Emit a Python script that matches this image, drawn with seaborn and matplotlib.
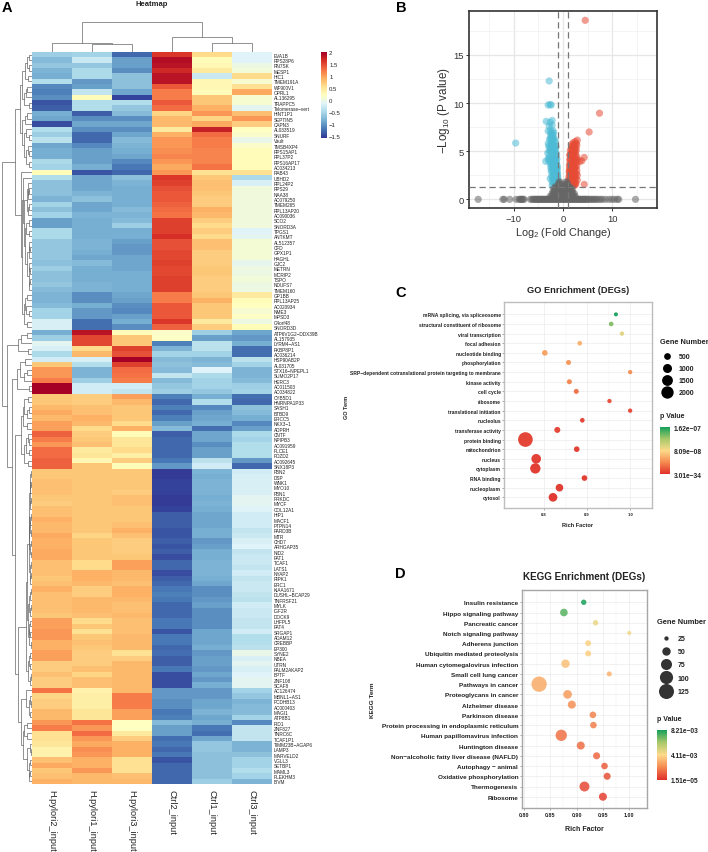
import numpy as np
import pandas as pd
import matplotlib
matplotlib.use("Agg")
import matplotlib.pyplot as plt
from matplotlib.colors import LinearSegmentedColormap, Normalize
from matplotlib.lines import Line2D
from matplotlib.cm import ScalarMappable
import seaborn as sns

sns.set_style("white")
plt.rcParams['font.family'] = ['Liberation Sans', 'DejaVu Sans']
plt.rcParams['mathtext.default'] = 'regular'

W, H = 708, 853

# heatmap data
genes = ["EVA1B","RPS28P6","RN7SK","MESP1","HIC1","TMEM191A","WF900V1","OPRL1","AL136295","TRAPPC5","Telomerase−vert",
"HINT1P1","SEPTIN5","CAPN3","AL033519","SNURF","Vault","TMSB4XP4","RPS15AP1","RPL37P2","RPS16AP17","AC034213",
"RAB43","UBHD2","RPL24P2","RPS29","NAA38","AC079250","TMEM265","RPL13AP20","AC090036",
"SCO2","SNORD3A","TPGS1","ANTKMT","AL512357","CFD","GPX1P1","HAGHL","GJC2","METRN","MCRIP2","TSPO","NDUFS7","TMEM160",
"GP1BB","RPL13AP25","AC020934","NME3","MPSD3","C4orf48","SNORD3D",
"ATP6V1G2−DDX39B","AL157935","LYRM4−AS1","FKBP8P1","AC036214","HSP90AB2P","AL031705","STX16−NPEPL1","SUMO2P17","HERC3","AC011503","AC034822",
"CYB5D1","HNRNPA1P33","SASH1","BTBD9","ERCC5","NKX3−1","ADPRH","CNTF","NPIPB3","AC091959","PLCE1","PDZD2","AC092645","SNX18P3",
"FBN2","DSP","WNK1","MYO10","FBN1","PRKDC","MYCF","COL12A1",
"HIP1","MACF1","PTPN14","PARD3B","MTR","CHD7","ARHGAP35","NID2","FAT1",
"TCAF1","LATS1","NYAP2","RIPK1","ERC1","KIAA1671","DUSHL−BCAP29","TNFRSF21","MYLK","IGF2R","DOCK9",
"LHFPL5","FAT4","SRGAP1","ADAM12","CREBBP","EP300",
"SYNE2","NBEA","UTRN","PALM2AKAP2","BPTF","ZNF108","SCAF8",
"AC126474","MBNL1−AS1","PCDHB13","AC000403","MAGI1","ATP8B1",
"PID1","ZNF827","TNRC6C","TCAF1P1","TIMM23B−AGAP6","LAMP3","MARVELD2","VGLL3","SETBP1","MAML3","PLEKHM3","BIVM"]

samples = ["H.pylori2_input","H.pylori1_input","H.pylori3_input","Ctrl2_input","Ctrl1_input","Ctrl3_input"]

h2 = [-0.6,-0.75,-0.65,-0.8,-0.85,-0.45,-1.1,-1.15,-1.05,-1.4,-1.35,
-0.85,-0.9,-1.45,-0.45,-0.6,-0.4,-0.9,-0.85,-0.85,-0.5,-0.55,
0.25,-0.45,-0.7,-0.7,-0.7,-0.8,-0.55,-0.7,-0.55,
-0.95,-0.95,-0.5,-0.5,-0.65,-0.65,-0.65,-0.65,-0.7,-0.6,-0.7,-0.7,-0.65,-0.75,
-0.8,-0.8,-0.75,-0.55,-0.55,-0.2,-0.2,
-0.85,-0.6,-0.1,-0.2,-0.5,-0.25,0.75,1.05,1.05,1.2,2.05,2.05,
0.75,0.75,0.85,0.95,0.85,1.0,1.0,1.35,1.2,1.05,1.3,1.3,1.35,1.35,
.75,.75,.8,.8,.8,.75,.7,.8,
.8,.9,.85,.85,.95,.9,.9,.95,.95,
.8,.8,.8,.75,.8,.9,.8,.8,.8,.8,.75,
1.0,1.0,1.05,1.05,.9,.9,
1.0,1.0,.7,.7,.8,.7,.7,
1.25,.65,.7,.7,.85,.85,
1.05,1.2,.55,.55,.5,.35,.35,.8,.95,.75,.8,.9]

h1 = [-0.55,-0.3,-0.65,-0.5,-0.5,-1.0,-0.95,-0.35,0.25,-0.45,-0.45,
-1.35,-1.05,-0.9,-1.05,-1.3,-1.3,-1.1,-0.95,-0.95,-0.95,-0.85,
-1.4,-0.9,-0.9,-0.9,-0.8,-0.7,-0.9,-0.9,-0.8,
-0.85,-0.85,-0.85,-0.85,-0.8,-0.8,-0.85,-0.9,-0.75,-0.85,-0.85,-0.85,-0.8,-0.8,
-1.05,-1.05,-0.85,-1.0,-1.0,-1.25,-1.25,
1.85,1.5,1.5,0.6,0.85,-0.2,-0.45,-0.8,-0.8,-0.6,-0.25,-0.25,
0.7,0.7,0.8,0.8,0.9,0.85,0.6,0.7,0.75,0.8,0.45,0.5,0.3,0.75,
.75,.75,.75,.75,.75,.75,.75,.75,
.75,.75,.75,.75,.65,.75,.75,.75,.75,
.6,.6,.9,.9,.85,.7,.7,.85,.85,.85,.8,
.6,.75,.55,.75,.8,.75,
.7,.7,.7,.8,.65,.8,.8,
.35,.4,.4,.4,.5,.5,
1.25,1.05,1.3,1.05,.95,1.1,1.05,.9,.9,1.05,.85,.85]

h3 = [-1.3,-0.95,-0.95,-1.05,-0.7,-0.7,-0.7,-0.9,-1.5,-0.45,-0.65,
-0.75,-1.05,-0.9,-1.05,-0.9,-0.75,-0.8,-0.85,-0.9,-1.1,-1.2,
-1.3,-0.7,-0.8,-0.85,-0.85,-0.85,-0.85,-0.75,-0.8,
-0.75,-0.6,-0.85,-0.85,-0.95,-1.0,-1.0,-0.9,-0.9,-0.9,-0.85,-0.85,-0.85,-0.85,
-0.9,-0.95,-1.05,-1.1,-0.95,-0.85,-1.05,
0.25,0.75,0.75,1.55,1.45,2.0,1.55,1.3,1.25,1.2,-0.25,-0.35,
1.0,0.85,0.75,0.75,0.75,0.6,0.9,0.25,0.5,0.5,0.6,0.4,0.7,0.25,
.75,.75,.75,.75,.7,.8,.8,.75,
.75,.75,.8,.9,.8,.7,.7,.7,.75,
1.0,1.0,.85,.85,.8,.9,.9,.85,.8,.8,.85,
.8,.8,.8,.85,.85,.85,
.55,.7,.85,.85,.85,.85,.85,
.85,1.2,1.2,1.2,1.0,1.0,
.2,.2,.45,.7,.9,.9,.9,.55,.55,.55,.8,.85]

c2 = [1.6,1.9,1.85,1.7,1.85,1.85,1.4,1.2,1.2,1.4,1.3,
.65,.85,.85,.45,.9,1.05,1.05,1.1,1.15,1.05,.95,
1.05,1.6,1.55,1.45,1.4,1.4,1.35,1.3,1.25,
1.55,1.55,1.55,1.65,1.45,1.45,1.5,1.5,1.55,1.5,1.5,1.55,1.55,1.55,
1.2,1.2,1.4,1.4,1.4,1.6,1.35,
.15,.18,-1.15,-.8,-.55,-.75,-.7,-.75,-.35,-.75,-.65,-.6,
-1.15,-1.3,-1.15,-1.3,-1.15,-.95,-.75,-1.35,-1.3,-1.3,-1.3,-1.3,-1.2,-1.0,
-1.55,-1.55,-1.5,-1.5,-1.5,-1.55,-1.55,-1.5,
-1.35,-1.35,-1.35,-1.4,-1.4,-1.35,-1.4,-1.35,-1.45,
-1.3,-1.3,-1.45,-1.35,-1.3,-1.2,-1.15,-1.2,-1.3,-1.3,-1.3,
-1.2,-1.2,-1.4,-1.2,-1.2,-1.3,
-1.25,-1.35,-1.35,-1.2,-1.45,-1.45,-1.45,
-1.0,-1.0,-1.05,-1.05,-1.2,-1.15,
-.75,-.95,-.95,-1.25,-1.2,-1.3,-1.2,-1.4,-1.3,-1.3,-1.3,-1.3]

c1 = [.6,.25,.3,.45,-.3,.3,.3,.25,.75,.75,.9,
1.05,.65,.95,1.75,1.3,1.2,1.2,1.15,1.15,1.15,1.25,
.55,.75,.8,.8,.75,.7,.7,.9,.85,
.7,.6,.7,.6,.8,.8,.7,.7,.7,.75,.75,.7,.7,.7,
.75,.9,.75,.75,.75,.45,.7,
-.6,-.95,-.4,-.4,-.55,-.8,-.75,-.15,-.5,-.55,-.55,-.65,
-.85,-.45,-1.1,-.95,-.9,-.85,-1.25,-.9,-.9,-1.05,-.95,-.95,-.4,-.25,
-.8,-.85,-.8,-.8,-.8,-.85,-.8,-.85,
-.9,-.9,-.9,-.85,-.85,-1.0,-.95,-.85,-.85,
-.8,-.8,-.8,-.85,-.9,-1.05,-1.05,-1.0,-.95,-1.05,-1.05,
-1.05,-1.05,-.9,-.9,-.9,-.85,
-1.0,-.95,-.95,-1.0,-.9,-1.0,-.85,
-1.0,-1.0,-.9,-.9,-.8,-.9,
-.85,-1.2,-1.25,-.9,-.65,-.65,-.7,-.7,-.7,-.7,-.7,-.6]

c3 = [-.15,-.15,0,.05,.6,.1,.55,.95,.1,.1,-.1,
.8,1.05,.7,.2,.15,-.05,.15,.25,.25,.25,.25,
.55,-.5,-.2,.03,.03,.03,.03,.03,.03,
.03,.03,-.15,-.1,.08,.08,.08,.08,-.08,0,0,.05,0,0,
.45,.25,.22,.1,.18,0,.25,
-.9,-1.0,-.85,-1.25,-1.25,-.4,-.55,-.8,-.8,-.75,-.6,-.55,
-1.25,-1.3,-.7,-.75,-.85,-1.1,-.95,-.5,-.55,-.45,-.45,-.45,-1.0,-1.3,
-.25,-.2,-.2,-.2,-.2,-.1,-.1,-.15,
-.25,-.25,-.25,-.35,-.3,-.2,-.15,-.35,-.3,
-.3,-.35,-.25,-.35,-.3,-.3,-.35,-.4,-.25,-.3,-.3,
-.35,-.35,-.25,-.45,-.45,-.4,
-.05,-.2,-.1,-.2,-.15,-.1,-.1,
-.55,-.65,-.8,-.75,-.75,-.55,
-1.1,-.35,-.35,-.35,-.8,-.8,-.7,-.55,-.55,-.45,-.55,-.8]

# merge height between neighbouring leaves
col_merge = [9.5, 8, 30.5, 15.5, 9.5]
row_merge = [3,5,3,7,4,10,5,6,8,3,12,
5,7,10,6,3,8,4,3,6,3,17,
11,9,4,3,4,5,3,4,8,3,6,3,7,3,2.5,3.5,5,3,2.5,3.5,2.5,3,10,5,7,6,3,8,5,30,
5,11,14,4,24.7,
7,12,5,8,15,3.5,20,
4,8,3,5,9,5,11,4,3,6,3,8,4.5,17,
1.5,2,1.2,1.8,2.5,1.2,2,3,1.3,1.8,2.3,1.5,2.8,1.2,2,1.4,3.2,1.2,2.4,1.5,2,5,1.5,2.2,3,1.4,2.2,4,1.6,2.6,1.8,3.2,1.3,6,2,3,1.6,4,1.5,2.2,14,
6,2,1.3,3.5,1.8,11,
5,8,5.5,9,2.2,1.5,5,2.5,3.5,1.8,2.8]

# volcano
blue_fc = [-2.8,-3.0,-2.6,-2.4,-9.6,-3.4,-2.2,-2.6,-2.8,-2.2,-3.0,-2.5,-2.0,-2.4,-2.0,-2.6,-2.1,-1.8,-2.4,-3.0,-2.0,-1.6,-2.6,-2.1,-1.6,-3.1,-2.5,-1.9,-1.4,-2.8,-2.1,-1.5,-3.5,-2.9,-2.3,-1.7,-1.3,-2.2,-1.7,-1.25,-2.3,-1.7,-1.2,-2.0,-1.5,-1.15,-2.6,-2.1,-1.5,-1.1,-2.0,-1.5,-1.1,-2.2,
-2.5,-2.2,-1.9,-2.7,-2.4,-2.1,-1.8,-1.5,-2.9,-2.6,-2.3,-2.0,-1.7,-1.4,-2.8,-2.5,-2.2,-1.9,-1.6,-1.3,-3.0,-2.7,-2.4,-2.1,-1.8,-1.5,-1.25,-2.6,-2.3,-2.0,-1.7,-1.4,-1.2,-2.5,-2.2,-1.9,-1.6,-1.3,-1.15,-2.4,-2.1,-1.8,-1.5,-1.25,-1.1,-2.3,-2.0,-1.7,-1.4,-1.15,-1.05,-2.2,-1.9,-1.6,-1.3,-1.1]
blue_p = [12.3,9.8,9.85,9.8,5.85,8.1,8.2,8.0,7.6,7.7,7.1,7.2,7.1,6.7,6.6,6.4,6.2,6.1,5.9,5.8,5.7,5.6,5.4,5.3,5.2,4.8,4.9,4.8,4.8,4.4,4.4,4.4,3.95,4.0,4.0,4.0,3.9,3.6,3.5,3.4,3.1,3.0,3.0,2.6,2.6,2.5,2.15,2.1,2.0,1.9,1.6,1.6,1.5,1.4,
6.9,6.8,6.9,6.2,6.3,6.4,6.3,6.0,5.5,5.6,5.7,5.5,5.4,5.5,5.0,5.1,5.0,5.2,5.0,4.6,4.2,4.3,4.2,4.1,4.2,4.1,4.2,3.7,3.8,3.7,3.8,3.7,3.5,3.3,3.4,3.3,3.3,3.2,3.2,2.9,2.8,2.9,2.8,2.8,2.7,2.4,2.3,2.4,2.3,2.3,2.2,1.8,1.9,1.8,1.7,1.7]
red_fc = [4.5,7.4,5.3,2.9,2.5,2.1,1.7,2.8,2.3,1.8,1.5,2.7,2.2,1.7,1.4,2.6,2.0,1.5,4.3,3.8,3.4,2.9,2.5,2.0,1.4,2.8,2.2,1.7,1.3,2.8,2.3,1.8,1.3,2.9,2.3,1.7,1.2,2.9,2.4,1.8,1.2,4.3,2.6,2.0,1.5,1.1,
2.7,2.4,2.1,1.8,2.6,2.3,2.0,1.7,2.5,2.2,1.9,1.6,1.4,2.8,2.5,2.2,1.9,1.6,1.35,2.7,2.4,2.1,1.8,1.5,1.3,2.6,2.3,2.0,1.7,1.4,1.25,2.7,2.4,2.1,1.8,1.5,1.25,2.6,2.3,2.0,1.7,1.4,1.2,2.5,2.2,1.9,1.6,1.3,1.15,2.4,2.1,1.8,1.5,1.2,1.1]
red_p = [18.6,8.95,7.0,6.15,6.0,5.9,5.7,5.6,5.5,5.3,5.1,5.1,5.0,4.8,4.6,4.6,4.4,4.2,4.35,4.0,3.95,4.1,4.0,3.9,3.7,3.5,3.4,3.3,3.2,3.0,2.9,2.8,2.7,2.5,2.4,2.3,2.2,2.0,1.9,1.8,1.7,1.55,1.6,1.5,1.45,1.4,
5.8,5.7,5.6,5.5,5.3,5.2,5.3,5.1,4.9,4.8,4.9,4.7,4.6,4.4,4.3,4.2,4.2,4.1,4.1,3.8,3.7,3.6,3.7,3.6,3.5,3.3,3.2,3.2,3.1,3.0,2.9,2.7,2.6,2.6,2.5,2.5,2.4,2.2,2.2,2.1,2.1,2.0,1.9,1.7,1.7,1.6,1.6,1.6,1.55,1.45,1.45,1.4,1.4,1.4,1.35]
gray_fc = [-17.2,-12.2,-11.9,-10.8,-9.5,-8.9,-8.7,-8.5,-8.3,-8.1,-7.9,-6.6,-6.3,-6.0,-5.8,-5.6,-5.4,-5.2,-5.0,-4.8,-4.6,-4.4,-4.2,-4.0,-3.8,-3.6,-3.4,-3.2,-3.0,-2.8,-2.6,-2.4,-2.2,-2.0,-1.8,-1.6,-1.4,-1.2,-1.0,-0.8,-0.6,-0.4,-0.2,0.0,0.2,0.4,0.6,0.8,1.0,1.2,1.4,1.6,1.8,2.0,2.2,2.4,2.6,2.8,3.0,3.2,3.4,3.6,3.8,4.0,4.2,4.4,4.6,4.8,5.0,5.3,5.6,5.9,6.2,6.5,6.8,7.2,7.6,8.0,8.6,9.3,9.9,10.4,11.0,11.3,14.7,
-2.6,-2.3,-2.0,-1.7,-1.4,-1.1,-0.8,-0.5,-0.2,0.1,0.4,0.7,1.0,1.3,1.6,1.9,2.2,2.5,-2.2,-1.9,-1.6,-1.3,-1.0,-0.7,-0.4,-0.1,0.2,0.5,0.8,1.1,1.4,1.7,2.0,2.3,-2.0,-1.7,-1.4,-1.1,-0.8,-0.5,-0.2,0.1,0.4,0.7,1.0,1.3,1.6,1.9,-1.8,-1.5,-1.2,-0.9,-0.6,-0.3,0.0,0.3,0.6,0.9,1.2,1.5,1.8,-1.6,-1.3,-1.0,-0.7,-0.4,-0.1,0.2,0.5,0.8,1.1,1.4,-0.9,-0.7,-0.5,0.5,0.7,0.9,-0.8,-0.6,0.6,0.8]
gray_p = [0] * 85 + [0.3] * 18 + [0.6] * 16 + [0.85] * 14 + [1.1] * 13 + [1.3] * 11 + [1.55] * 6 + [1.8] * 4

# GO dots
go_terms = ["mRNA splicing, via spliceosome","structural constituent of ribosome","viral transcription","focal adhesion","nucleotide binding","phosphorylation","SRP−dependent cotranslational protein targeting to membrane","kinase activity","cell cycle","ribosome","translational initiation","nucleolus","transferase activity","protein binding","mitochondrion","nucleus","cytoplasm","RNA binding","nucleoplasm","cytosol"]
go_rich = [.967,.956,.981,.883,.802,.857,1.0,.859,.875,.952,1.0,.889,.831,.757,.876,.782,.78,.894,.836,.821]
go_genes = [90,170,127,170,313,216,127,216,216,127,127,170,370,2878,313,1162,1351,313,676,919]
go_p = [1.62e-7,1.32e-7,9.5e-8,6.0e-8,5.2e-8,4.6e-8,4.2e-8,3.8e-8,2.9e-8,1.3e-8,9e-9,8e-9,7e-9,6e-9,5e-9,4e-9,3e-9,3e-9,2e-9,1e-9]
go_legend = [500,1000,1500,2000]

# KEGG dots
kegg_terms = ["Insulin resistance","Hippo signaling pathway","Pancreatic cancer","Notch signaling pathway","Adherens junction","Ubiquitin mediated proteolysis","Human cytomegalovirus infection","Small cell lung cancer","Pathways in cancer","Proteoglycans in cancer","Alzheimer disease","Parkinson disease","Protein processing in endoplasmic reticulum","Human papillomavirus infection","Huntington disease","Non−alcoholic fatty liver disease (NAFLD)","Autophagy − animal","Oxidative phosphorylation","Thermogenesis","Ribosome"]
kegg_rich = [.9136,.876,.936,1.0,.922,.922,.879,.962,.829,.883,.891,.931,.932,.871,.908,.938,.953,.958,.915,.95]
kegg_genes = [30,44,30,24,33,33,50,28,130,52,47,37,37,78,47,40,37,40,64,47]
kegg_p = [8.21e-3,7.3e-3,4.6e-3,4.4e-3,3.9e-3,3.8e-3,3.4e-3,3.1e-3,2.9e-3,2.5e-3,2.2e-3,1.9e-3,1.8e-3,1.5e-3,1.4e-3,1.3e-3,1.0e-3,0.8e-3,0.6e-3,0.4e-3]
kegg_legend = [25,50,75,100,125]


def px_axes(x0, y0, x1, y1):
    # pixel box, y measured from the top
    return fig.add_axes([x0 / W, 1 - y1 / H, (x1 - x0) / W, (y1 - y0) / H])


def draw_tree(ax, merges, first, last, horizontal):
    # split at the highest merge, returns leaf centre and height
    if first == last:
        return first + 0.5, 0
    k = first + int(np.argmax(merges[first:last]))
    h = merges[k]
    p1, h1 = draw_tree(ax, merges, first, k, horizontal)
    p2, h2 = draw_tree(ax, merges, k + 1, last, horizontal)
    if horizontal:
        ax.plot([p1, p1, p2, p2], [h1, h, h, h2], color='#666666', lw=0.5, solid_joinstyle='miter')
    else:
        ax.plot([-h1, -h, -h, -h2], [p1, p1, p2, p2], color='#666666', lw=0.5, solid_joinstyle='miter')
    return (p1 + p2) / 2, h


fig = plt.figure(figsize=(W / 100, H / 100), dpi=100, facecolor='white')

# A
df = pd.DataFrame(dict(zip(samples, [h2, h1, h3, c2, c1, c3])), index=genes)
ax = px_axes(32, 53, 272, 785)
cax = px_axes(321, 53, 327, 139)
sns.heatmap(df, ax=ax, cmap='RdYlBu_r', vmin=-1.58, vmax=2.0, cbar_ax=cax, yticklabels=True, xticklabels=True, linewidths=0)
ax.yaxis.tick_right()
ax.tick_params(axis='y', length=0, labelsize=3.4, pad=1.2, labelrotation=0, labelcolor='#222222')
ax.tick_params(axis='x', length=0, labelsize=6.6, pad=3.5, labelrotation=270, labelcolor='#222222')
ax.set_xlabel('')
ax.set_ylabel('')
cax.set_yticks([-1.5, -1, -0.5, 0, 0.5, 1, 1.5, 2], ['−1.5', '−1', '−0.5', '0', '0.5', '1', '1.5', '2'])
cax.tick_params(axis='y', length=0, labelsize=4.3, pad=1.5)

top = px_axes(32, 20, 272, 53)
top.set_xlim(0, 6)
top.set_ylim(0, 33)
draw_tree(top, col_merge, 0, 5, True)
top.axis('off')

side = px_axes(0, 53, 32, 785)
side.set_xlim(-32, 0)
side.set_ylim(137, 0)
draw_tree(side, row_merge, 0, 136, False)
side.axis('off')

fig.text(152 / W, 1 - 4 / H, 'Heatmap', fontsize=5.5, fontweight='bold', ha='center', va='center', color='#222222')

# B
vol = pd.DataFrame({
    'fc': blue_fc + red_fc + gray_fc,
    'p': blue_p + red_p + gray_p,
    'group': ['down'] * len(blue_fc) + ['up'] * len(red_fc) + ['ns'] * len(gray_fc),
})
ax = px_axes(469.3, 11.7, 656.7, 209)
sns.scatterplot(data=vol, x='fc', y='p', hue='group', palette={'down': '#4DBBD5', 'up': '#E64B35', 'ns': '#666666'},
                s=27, alpha=0.55, linewidth=0, legend=False, ax=ax, zorder=3)
ax.set_xlim(-19, 19)
ax.set_ylim(-0.9, 19.6)
ax.set_xticks([-10, 0, 10], ['−10', '0', '10'])
ax.set_yticks([0, 5, 10, 15])
ax.set_xticks([-15, -5, 5, 15], minor=True)
ax.set_yticks([2.5, 7.5, 12.5, 17.5], minor=True)
ax.grid(True, which='major', color='#E6E6E6', lw=0.9)
ax.grid(True, which='minor', color='#F0F0F0', lw=0.5)
ax.set_axisbelow(True)
for v in [-1, 1]:
    ax.axvline(v, color='#777777', lw=0.9, ls=(0, (5, 3)), zorder=4)
ax.axhline(1.3, color='#777777', lw=0.9, ls=(0, (5, 3)), zorder=4)
ax.tick_params(axis='both', which='major', length=2.5, width=0.7, color='#333333', labelsize=6.8, labelcolor='#333333', pad=1.5, bottom=True, left=True)
ax.tick_params(axis='both', which='minor', length=0)
for s in ax.spines.values():
    s.set_color('#333333')
    s.set_linewidth(1.2)
ax.set_xlabel('Log$_2$ (Fold Change)', fontsize=7.8, color='#333333', labelpad=1.5)
ax.set_ylabel('−Log$_{10}$ (P value)', fontsize=8.4, color='#333333', labelpad=1)

# C, D
pcmap = LinearSegmentedColormap.from_list('pv', ['#E0302A', '#F58A50', '#FDDA8A', '#A9C86A', '#17A05A'])


def dot_panel(box, terms, rich, genes_n, pvals, size_norm, sizes, xlim, ticks, fmt, top_pad, bot_pad, alpha, label_sizes, frame):
    d = pd.DataFrame({'term': terms, 'rich': rich, 'genes': genes_n, 'p': pvals})
    a = px_axes(*box)
    sns.scatterplot(data=d, x='rich', y='term', size='genes', sizes=sizes, size_norm=size_norm, hue='p',
                    palette=pcmap, hue_norm=(0, max(pvals)), linewidth=0, alpha=alpha, legend=False, ax=a, zorder=3)
    a.set_xlim(*xlim)
    a.set_ylim(len(terms) - 1 + bot_pad, -top_pad)
    a.set_xticks(ticks, [fmt % t for t in ticks])
    a.set_xticks([(t0 + t1) / 2 for t0, t1 in zip(ticks[:-1], ticks[1:])], minor=True)
    a.grid(True, which='major', color='#EBEBEB', lw=0.5)
    a.grid(True, which='minor', axis='x', color='#F2F2F2', lw=0.35)
    a.set_axisbelow(True)
    a.tick_params(axis='x', which='major', length=1.5, width=0.4, color='#666666', labelsize=label_sizes[0], pad=1.5, bottom=True)
    a.tick_params(axis='y', length=1.5, width=0.4, color='#666666', labelsize=label_sizes[1], pad=1, left=True)
    a.tick_params(axis='x', which='minor', length=0)
    for lab in a.get_xticklabels() + a.get_yticklabels():
        lab.set_fontweight('bold')
        lab.set_color('#222222')
    for s in a.spines.values():
        s.set_color(frame)
        s.set_linewidth(1.0)
    return a


def size_legend(values, norm, sizes, x, y, spacing):
    handles = []
    for v in values:
        s = sizes[0] + (v - norm[0]) / (norm[1] - norm[0]) * (sizes[1] - sizes[0])
        handles.append(Line2D([], [], ls='', marker='o', ms=np.sqrt(s), mfc='black' if values is go_legend else '#333333', mec='none'))
    leg = fig.legend(handles, [str(v) for v in values], loc='upper left', bbox_to_anchor=(x / W, 1 - y / H),
                     frameon=False, labelspacing=spacing, handletextpad=0.9, borderpad=0, borderaxespad=0,
                     handlelength=1.6, prop={'size': 5, 'weight': 'bold'})
    for t in leg.get_texts():
        t.set_color('#222222')


def p_bar(box, pvals, labels):
    b = px_axes(*box)
    cb = fig.colorbar(ScalarMappable(Normalize(0, max(pvals)), pcmap), cax=b)
    cb.outline.set_visible(False)
    cb.set_ticks([0, max(pvals) / 2, max(pvals)], labels=labels)
    b.tick_params(axis='y', length=0, labelsize=4.8, pad=3)
    for lab in b.get_yticklabels():
        lab.set_fontweight('bold')
        lab.set_color('#222222')


# C
norm_c, sizes_c = (0, 3000), (5, 116)
ax = dot_panel((504.3, 303.3, 651.7, 509.3), go_terms, go_rich, go_genes, go_p, norm_c, sizes_c, (0.708, 1.05), [0.8, 0.9, 1.0], '%.1f', 1.25, 1.14, 0.95, (3.0, 3.6), '#BDBDBD')
ax.set_xlabel('Rich Factor', fontsize=4.1, fontweight='bold', color='#222222', labelpad=4)
ax.set_ylabel('')
fig.text(347 / W, 1 - 407 / H, 'GO Term', fontsize=4, fontweight='bold', rotation=90, ha='center', va='center', color='#222222')
fig.text(578 / W, 1 - 290.5 / H, 'GO Enrichment (DEGs)', fontsize=6.7, fontweight='bold', ha='center', va='center', color='#222222')
fig.text(660 / W, 1 - 342 / H, 'Gene Number', fontsize=5.3, fontweight='bold', va='center', color='#222222')
size_legend(go_legend, norm_c, sizes_c, 661.7, 354.5, 0.72)
fig.text(660 / W, 1 - 417 / H, 'p Value', fontsize=5, fontweight='bold', va='center', color='#222222')
p_bar((660, 428.3, 669.7, 475), go_p, ['3.01e−34', '8.09e−08', '1.62e−07'])

# D
norm_d, sizes_d = (24, 130), (8.7, 122)
ax = dot_panel((521.7, 591.3, 646.7, 809.3), kegg_terms, kegg_rich, kegg_genes, kegg_p, norm_d, sizes_d, (0.796, 1.033), [0.8, 0.85, 0.9, 0.95, 1.0], '%.2f', 1.17, 1.13, 0.85, (3.9, 4.55), '#A6A6A6')
ax.set_xlabel('Rich Factor', fontsize=5, fontweight='bold', color='#222222', labelpad=5.5)
ax.set_ylabel('')
fig.text(372 / W, 1 - 700 / H, 'KEGG Term', fontsize=4.6, fontweight='bold', rotation=90, ha='center', va='center', color='#222222')
fig.text(584 / W, 1 - 577 / H, 'KEGG Enrichment (DEGs)', fontsize=7.1, fontweight='bold', ha='center', va='center', color='#222222')
fig.text(656.7 / W, 1 - 623 / H, 'Gene Number', fontsize=5.4, fontweight='bold', va='center', color='#222222')
size_legend(kegg_legend, norm_d, sizes_d, 660, 636, 0.9)
fig.text(656.7 / W, 1 - 719.3 / H, 'p Value', fontsize=5, fontweight='bold', va='center', color='#222222')
p_bar((656.7, 731, 666.7, 780.7), kegg_p, ['1.51e−05', '4.11e−03', '8.21e−03'])

# panel letters
for letter, x, y in [('A', 2, 8), ('B', 396, 8), ('C', 395, 293), ('D', 395, 574)]:
    fig.text(x / W, 1 - y / H, letter, fontsize=10.5, fontweight='bold', va='center', color='black')

fig.savefig('out.png', dpi=100)
